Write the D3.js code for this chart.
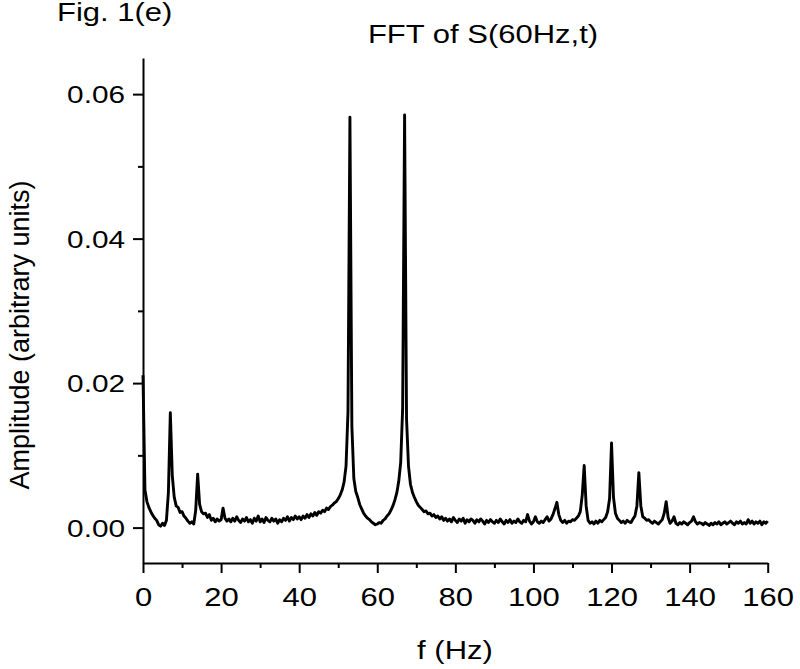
<!DOCTYPE html>
<html>
<head>
<meta charset="utf-8">
<script src="https://cdn.jsdelivr.net/npm/d3@7"></script>
<style>
  html, body { margin: 0; padding: 0; background: #fff; }
  svg { display: block; }
  text { font-family: "Liberation Sans", Arial, sans-serif; fill: #000; }
</style>
</head>
<body>
<svg id="chart" width="800" height="669"></svg>
<script>
// ---- data ----
const binWidthHz = 0.5;           // spectrum sampled every 0.5 Hz, from 0 to 160 Hz
const amplitude = [
  // 0 - 4.5 Hz
  0.0211, 0.0052, 0.0036, 0.0028, 0.0022, 0.0017, 0.0013, 0.0010, 0.0004, 0.0002,
  // 5 - 9.5
  0.0006, 0.0003, 0.0010, 0.0048, 0.0159, 0.0072, 0.0042, 0.0030, 0.0028, 0.0021,
  // 10 - 14.5
  0.0022, 0.0016, 0.0013, 0.0009, 0.0006, 0.0008, 0.0005, 0.0024, 0.0074, 0.0032,
  // 15 - 19.5
  0.0022, 0.0019, 0.0020, 0.0014, 0.0018, 0.0010, 0.0013, 0.0008, 0.0012, 0.0009,
  // 20 - 24.5
  0.0011, 0.0027, 0.0013, 0.0009, 0.0012, 0.0008, 0.0013, 0.0009, 0.0015, 0.0010,
  // 25 - 29.5
  0.0007, 0.0012, 0.0009, 0.0014, 0.0008, 0.0011, 0.0006, 0.0013, 0.0009, 0.0016,
  // 30 - 34.5
  0.0008, 0.0012, 0.0007, 0.0014, 0.0010, 0.0008, 0.0013, 0.0009, 0.0012, 0.0006,
  // 35 - 39.5
  0.0011, 0.0008, 0.0013, 0.0010, 0.0015, 0.0009, 0.0014, 0.0011, 0.0016, 0.0012,
  // 40 - 44.5
  0.0015, 0.0011, 0.0016, 0.0013, 0.0018, 0.0014, 0.0019, 0.0016, 0.0021, 0.0017,
  // 45 - 49.5
  0.0022, 0.0020, 0.0024, 0.0022, 0.0027, 0.0025, 0.0029, 0.0031, 0.0034, 0.0036,
  // 50 - 54.5
  0.0040, 0.0045, 0.0052, 0.0063, 0.0085, 0.0160, 0.0568, 0.0140, 0.0068, 0.0050,
  // 55 - 59.5
  0.0042, 0.0032, 0.0026, 0.0020, 0.0016, 0.0013, 0.0011, 0.0008, 0.0006, 0.0004,
  // 60 - 64.5
  0.0005, 0.0007, 0.0006, 0.0010, 0.0012, 0.0016, 0.0019, 0.0024, 0.0030, 0.0038,
  // 65 - 69.5
  0.0048, 0.0064, 0.0090, 0.0165, 0.0571, 0.0150, 0.0085, 0.0060, 0.0049, 0.0042,
  // 70 - 74.5
  0.0036, 0.0031, 0.0028, 0.0025, 0.0022, 0.0023, 0.0019, 0.0020, 0.0016, 0.0018,
  // 75 - 79.5
  0.0014, 0.0016, 0.0012, 0.0015, 0.0010, 0.0013, 0.0009, 0.0012, 0.0008, 0.0014,
  // 80 - 84.5
  0.0010, 0.0007, 0.0012, 0.0009, 0.0013, 0.0006, 0.0011, 0.0008, 0.0012, 0.0010,
  // 85 - 89.5
  0.0006, 0.0011, 0.0008, 0.0012, 0.0009, 0.0005, 0.0010, 0.0007, 0.0011, 0.0008,
  // 90 - 94.5
  0.0006, 0.0010, 0.0007, 0.0012, 0.0008, 0.0005, 0.0010, 0.0007, 0.0011, 0.0006,
  // 95 - 99.5
  0.0009, 0.0007, 0.0012, 0.0008, 0.0006, 0.0010, 0.0008, 0.0018, 0.0009, 0.0005,
  // 100 - 104.5
  0.0008, 0.0015, 0.0008, 0.0006, 0.0009, 0.0007, 0.0011, 0.0015, 0.0009, 0.0012,
  // 105 - 109.5
  0.0018, 0.0026, 0.0035, 0.0018, 0.0010, 0.0007, 0.0010, 0.0006, 0.0009, 0.0008,
  // 110 - 114.5
  0.0011, 0.0010, 0.0013, 0.0016, 0.0022, 0.0045, 0.0086, 0.0030, 0.0010, 0.0006,
  // 115 - 119.5
  0.0008, 0.0005, 0.0009, 0.0006, 0.0010, 0.0008, 0.0011, 0.0014, 0.0022, 0.0040,
  // 120 - 124.5
  0.0117, 0.0042, 0.0020, 0.0013, 0.0010, 0.0007, 0.0009, 0.0006, 0.0010, 0.0008,
  // 125 - 129.5
  0.0007, 0.0012, 0.0016, 0.0030, 0.0076, 0.0030, 0.0015, 0.0013, 0.0010, 0.0011,
  // 130 - 134.5
  0.0008, 0.0006, 0.0009, 0.0007, 0.0005, 0.0008, 0.0011, 0.0020, 0.0036, 0.0014,
  // 135 - 139.5
  0.0006, 0.0009, 0.0015, 0.0006, 0.0004, 0.0007, 0.0005, 0.0008, 0.0006, 0.0004,
  // 140 - 144.5
  0.0007, 0.0009, 0.0015, 0.0008, 0.0005, 0.0007, 0.0006, 0.0004, 0.0007, 0.0005,
  // 145 - 149.5
  0.0003, 0.0006, 0.0004, 0.0007, 0.0005, 0.0008, 0.0004, 0.0006, 0.0008, 0.0005,
  // 150 - 154.5
  0.0007, 0.0009, 0.0006, 0.0004, 0.0008, 0.0006, 0.0009, 0.0005, 0.0007, 0.0005,
  // 155 - 159.5
  0.0011, 0.0006, 0.0009, 0.0005, 0.0008, 0.0006, 0.0009, 0.0004, 0.0008, 0.0006,
  // 160
  0.0009
];
const xTicks = [0, 20, 40, 60, 80, 100, 120, 140, 160];
const xMinorTicks = [10, 30, 50, 70, 90, 110, 130, 150];
const yTicks = [0, 0.02, 0.04, 0.06];
const yMinorTicks = [0.01, 0.03, 0.05];
const titleText = "FFT of S(60Hz,t)";
const figLabel = "Fig. 1(e)";
const xLabel = "f (Hz)";
const yLabel = "Amplitude (arbitrary units)";

// ---- layout ----
const plotLeft = 143, plotRight = 767.7, plotTop = 58, plotBottom = 563;
const sx = 1.24;  // horizontal stretch of the text in the reference

const svg = d3.select("#chart");
const x = d3.scaleLinear().domain([0, 160]).range([plotLeft, plotRight]);
const y = d3.scaleLinear().domain([-0.0049, 0.065]).range([plotBottom, plotTop]);

// curve
const points = amplitude.map((a, i) => [i * binWidthHz, a]);
const line = d3.line().x(d => x(d[0])).y(d => y(d[1]));
svg.append("path")
  .datum(points)
  .attr("d", line)
  .attr("fill", "none")
  .attr("stroke", "#000")
  .attr("stroke-width", 2.9)
  .attr("stroke-linejoin", "round");

// x axis
const gx = svg.append("g").attr("transform", `translate(0,${plotBottom})`);
gx.call(d3.axisBottom(x).tickValues(xTicks).tickSize(10).tickSizeOuter(0).tickFormat(d3.format("d")));
gx.append("g").call(d3.axisBottom(x).tickValues(xMinorTicks).tickSize(5).tickSizeOuter(0).tickFormat(""))
  .select(".domain").remove();
gx.selectAll("text")
  .attr("y", 0).attr("dy", 0).attr("x", 0)
  .attr("transform", `translate(0,43) scale(${sx},1)`)
  .attr("font-size", 25)
  .attr("font-family", '"Liberation Sans", Arial, sans-serif')
  .attr("text-anchor", "middle");

// y axis
const gy = svg.append("g").attr("transform", `translate(${plotLeft},0)`);
gy.call(d3.axisLeft(y).tickValues(yTicks).tickSize(10).tickSizeOuter(0).tickFormat(d3.format(".2f")));
gy.append("g").call(d3.axisLeft(y).tickValues(yMinorTicks).tickSize(5).tickSizeOuter(0).tickFormat(""))
  .select(".domain").remove();
gy.selectAll("text")
  .attr("x", 0).attr("dy", "0.35em")
  .attr("transform", `translate(-18,0) scale(${sx},1)`)
  .attr("font-size", 24)
  .attr("font-family", '"Liberation Sans", Arial, sans-serif')
  .attr("text-anchor", "end");

svg.selectAll(".domain, .tick line").attr("stroke", "#000").attr("stroke-width", 2);

// texts
svg.append("text")
  .attr("transform", `translate(483,43) scale(${sx},1)`)
  .attr("text-anchor", "middle").attr("font-size", 25)
  .text(titleText);

svg.append("text")
  .attr("transform", `translate(57,21) scale(${sx},1)`)
  .attr("text-anchor", "start").attr("font-size", 25)
  .text(figLabel);

svg.append("text")
  .attr("transform", `translate(455,659) scale(${sx},1)`)
  .attr("text-anchor", "middle").attr("font-size", 25)
  .text(xLabel);

svg.append("text")
  .attr("transform", `translate(29,335) rotate(-90)`)
  .attr("text-anchor", "middle").attr("font-size", 27)
  .text(yLabel);
</script>
</body>
</html>
